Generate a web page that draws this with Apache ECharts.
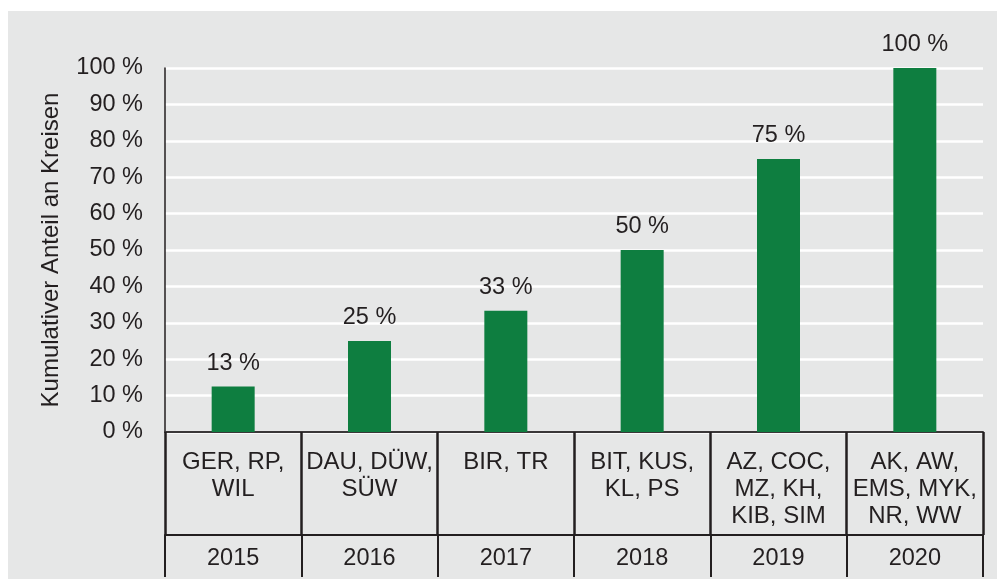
<!DOCTYPE html>
<html lang="de">
<head>
    <meta charset="UTF-8">
    <title>Kumulativer Anteil an Kreisen</title>
    <style>
        body { margin: 0; background: #ffffff; }
        #chart { position: absolute; left: 8px; top: 11px; width: 989px; height: 568px; }
    </style>
</head>
<body>
<div id="chart"></div>
<script src="https://cdn.jsdelivr.net/npm/echarts@6/dist/echarts.min.js"></script>
<script>
    // Daten
    var kreise = ['GER, RP,\nWIL', 'DAU, DÜW,\nSÜW', 'BIR, TR', 'BIT, KUS,\nKL, PS',
        'AZ, COC,\nMZ, KH,\nKIB, SIM', 'AK, AW,\nEMS, MYK,\nNR, WW'];
    var jahre = ['2015', '2016', '2017', '2018', '2019', '2020'];
    var anteil = [12.5, 25, 33.3, 50, 75, 100];
    var anteilLabels = ['13 %', '25 %', '33 %', '50 %', '75 %', '100 %'];
    var yTicks = [0, 10, 20, 30, 40, 50, 60, 70, 80, 90, 100];

    var textColor = '#231f20';
    var font = '"Liberation Sans", Arial, sans-serif';

    var myChart = echarts.init(document.getElementById('chart'));

    var option = {
        backgroundColor: '#e6e7e7',
        animation: false,
        textStyle: { fontFamily: font, color: textColor },
        grid: { left: 157, right: 14, top: 57, bottom: 147 },
        xAxis: [{
            type: 'category',
            data: kreise,
            axisLine: { show: true, lineStyle: { color: '#3a3738', width: 2 } },
            axisTick: { show: true, interval: 0, length: 103, lineStyle: { color: '#231f20', width: 2.5 } },
            axisLabel: {
                interval: 0, margin: 17, fontSize: 24, lineHeight: 27,
                color: textColor, fontFamily: font, verticalAlign: 'top'
            }
        }, {
            type: 'category',
            data: jahre,
            position: 'bottom',
            offset: 103,
            axisLine: { show: true, lineStyle: { color: '#231f20', width: 2 } },
            axisTick: { show: true, interval: 0, length: 42, lineStyle: { color: '#231f20', width: 2 } },
            axisLabel: { interval: 0, margin: 12, fontSize: 23.5, color: textColor, fontFamily: font }
        }],
        yAxis: {
            type: 'value',
            min: yTicks[0],
            max: yTicks[yTicks.length - 1],
            interval: 10,
            name: 'Kumulativer Anteil an Kreisen',
            nameLocation: 'middle',
            nameGap: 102,
            nameTextStyle: { fontSize: 24, color: textColor, fontFamily: font },
            axisLine: { show: true, lineStyle: { color: '#231f20', width: 1.5 } },
            axisTick: { show: false },
            axisLabel: {
                margin: 22, fontSize: 23.5, color: textColor, fontFamily: font,
                formatter: function (v) { return v + ' %'; }
            },
            splitLine: { show: true, lineStyle: { color: '#ffffff', width: 2.5 } }
        },
        series: [{
            type: 'bar',
            data: anteil,
            barWidth: 43,
            itemStyle: { color: '#0e7e40' },
            label: {
                show: true,
                position: 'top',
                distance: 11,
                fontSize: 23.5,
                color: textColor,
                fontFamily: font,
                formatter: function (p) { return anteilLabels[p.dataIndex]; }
            }
        }]
    };
    myChart.setOption(option);
</script>
</body>
</html>
